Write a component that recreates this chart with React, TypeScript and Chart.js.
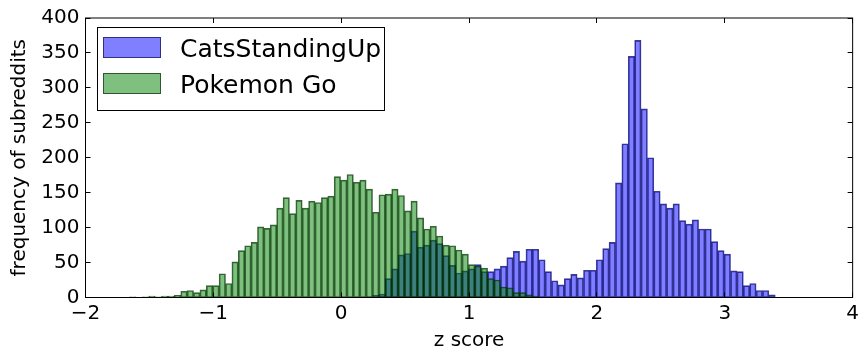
import React, { useEffect, useRef } from 'react';
import { Chart, registerables } from 'chart.js';

Chart.register(...registerables);

// Histogram bins (shared by both series)
const BIN_START = -1.655;
const BIN_WIDTH = 0.05;

// Series
const SERIES_NAMES = ['CatsStandingUp', 'Pokemon Go'];
const CATS_FIRST_BIN = 36;
const catsCounts = [
  0, 1, 3, 5, 27, 41, 61, 63, 95, 72, 75, 82, 77, 60, 46, 35, 38, 41, 47, 37,
  37, 41, 45, 57, 66, 52, 69, 69, 54, 37, 24, 18, 27, 33, 28, 39, 39, 54, 70, 79,
  164, 220, 345, 368, 270, 200, 152, 134, 128, 134, 110, 105, 111, 98, 98, 80, 67, 62, 38, 37,
  17, 20, 10, 10, 4,
];
const POKEMON_FIRST_BIN = 0;
const pokemonCounts = [
  1, 0, 1, 2, 1, 2, 2, 3, 9, 10, 7, 11, 17, 17, 34, 20, 51, 67, 74, 79,
  101, 99, 104, 128, 143, 120, 139, 128, 138, 136, 143, 145, 173, 168, 176, 165, 168, 155, 122, 147,
  148, 155, 146, 124, 138, 114, 98, 102, 88, 75, 74, 68, 62, 47, 45, 42, 27, 25, 15, 14,
  7, 7, 4, 2,
];

// Axes
const X_TICKS = [-2, -1, 0, 1, 2, 3, 4];
const Y_TICKS = [0, 50, 100, 150, 200, 250, 300, 350, 400];
const X_TITLE = 'z score';
const Y_TITLE = 'frequency of subreddits';

const FONT = "'DejaVu Sans', 'Bitstream Vera Sans', sans-serif";

const BLUE_FACE = 'rgba(0,0,255,0.5)';
const BLUE_EDGE = 'rgba(0,0,85,0.75)';
const GREEN_FACE = 'rgba(0,128,0,0.5)';
const GREEN_EDGE = 'rgba(0,43,0,0.75)';

function toPoints(first: number, counts: number[]) {
  return counts.map((c, i) => ({
    x: BIN_START + (first + i + 0.5) * BIN_WIDTH,
    y: c,
  }));
}

const fmt = (v: number) => (v < 0 ? '\u2212' + Math.abs(v) : String(v));

const framePlugin = {
  id: 'mplFrame',
  afterDraw(chart: any) {
    const { ctx, chartArea: a, scales } = chart;
    ctx.save();
    ctx.strokeStyle = '#000';
    ctx.lineWidth = 1;
    ctx.beginPath();
    const tl = 5;
    for (const v of X_TICKS) {
      const px = Math.round(scales.x.getPixelForValue(v) - 0.5) + 0.5;
      ctx.moveTo(px, a.bottom);
      ctx.lineTo(px, a.bottom - tl);
      ctx.moveTo(px, a.top);
      ctx.lineTo(px, a.top + tl);
    }
    for (const v of Y_TICKS) {
      const py = Math.round(scales.y.getPixelForValue(v) - 0.5) + 0.5;
      ctx.moveTo(a.left, py);
      ctx.lineTo(a.left + tl, py);
      ctx.moveTo(a.right, py);
      ctx.lineTo(a.right - tl, py);
    }
    ctx.stroke();
    ctx.strokeRect(a.left, a.top, a.right - a.left, a.bottom - a.top);

    // Legend (upper left, matplotlib style)
    const bx = 97.5, by = 27.5, bw = 287, bh = 83;
    ctx.fillStyle = '#fff';
    ctx.fillRect(bx, by, bw, bh);
    ctx.strokeStyle = '#000';
    ctx.strokeRect(bx, by, bw, bh);
    const entries = [
      { name: SERIES_NAMES[0], face: BLUE_FACE, edge: BLUE_EDGE, y: 37.5 },
      { name: SERIES_NAMES[1], face: GREEN_FACE, edge: GREEN_EDGE, y: 73.5 },
    ];
    ctx.font = `25px ${FONT}`;
    ctx.textBaseline = 'alphabetic';
    ctx.textAlign = 'left';
    for (const e of entries) {
      ctx.fillStyle = e.face;
      ctx.fillRect(103.5, e.y, 57, 20);
      ctx.strokeStyle = e.edge;
      ctx.strokeRect(103.5, e.y, 57, 20);
      ctx.fillStyle = '#000';
      ctx.fillText(e.name, 180, e.y + 19);
    }
    ctx.restore();
  },
};

export default function App() {
  const ref = useRef<HTMLCanvasElement | null>(null);

  useEffect(() => {
    document.body.style.margin = '0';
    const canvas = ref.current;
    if (!canvas) return;
    const chart = new Chart(canvas, {
      type: 'bar',
      data: {
        datasets: [
          {
            label: SERIES_NAMES[0],
            data: toPoints(CATS_FIRST_BIN, catsCounts) as any,
            backgroundColor: BLUE_FACE,
            borderColor: BLUE_EDGE,
            borderWidth: 1,
            borderSkipped: false,
            order: 1,
          },
          {
            label: SERIES_NAMES[1],
            data: toPoints(POKEMON_FIRST_BIN, pokemonCounts) as any,
            backgroundColor: GREEN_FACE,
            borderColor: GREEN_EDGE,
            borderWidth: 1,
            borderSkipped: false,
            order: 0,
          },
        ],
      },
      options: {
        animation: false,
        responsive: false,
        events: [],
        layout: { padding: { left: 0, right: 4.5, top: 17.5, bottom: 0 } },
        datasets: {
          bar: {
            grouped: false,
            barPercentage: 1,
            categoryPercentage: 1,
          },
        },
        plugins: {
          legend: { display: false },
          tooltip: { enabled: false },
        },
        scales: {
          x: {
            type: 'linear',
            min: -2,
            max: 4,
            offset: false,
            grid: { display: false, drawTicks: false },
            border: { display: false },
            afterBuildTicks: (s: any) => {
              s.ticks = X_TICKS.map((v) => ({ value: v }));
            },
            afterFit: (s: any) => {
              s.height = 55.5;
            },
            ticks: {
              autoSkip: false,
              maxRotation: 0,
              padding: 4,
              color: '#000',
              font: { family: FONT, size: 20 },
              callback: (v: any) => fmt(Number(v)),
            },
            title: {
              display: true,
              text: X_TITLE,
              color: '#000',
              font: { family: FONT, size: 20 },
              padding: { top: 0, bottom: 0 },
            },
          },
          y: {
            type: 'linear',
            min: 0,
            max: 400,
            grid: { display: false, drawTicks: false },
            border: { display: false },
            afterBuildTicks: (s: any) => {
              s.ticks = Y_TICKS.map((v) => ({ value: v }));
            },
            afterFit: (s: any) => {
              s.width = 85.5;
            },
            ticks: {
              padding: 6,
              color: '#000',
              font: { family: FONT, size: 20 },
              callback: (v: any) => fmt(Number(v)),
            },
            title: {
              display: true,
              text: Y_TITLE,
              color: '#000',
              font: { family: FONT, size: 20 },
              padding: { top: 8, bottom: 0 },
            },
          },
        },
      },
      plugins: [framePlugin],
    });
    return () => chart.destroy();
  }, []);

  return (
    <div style={{ position: 'absolute', left: 0, top: 0, width: 863, height: 353 }}>
      <canvas ref={ref} width={863} height={353} style={{ display: 'block' }} />
    </div>
  );
}
